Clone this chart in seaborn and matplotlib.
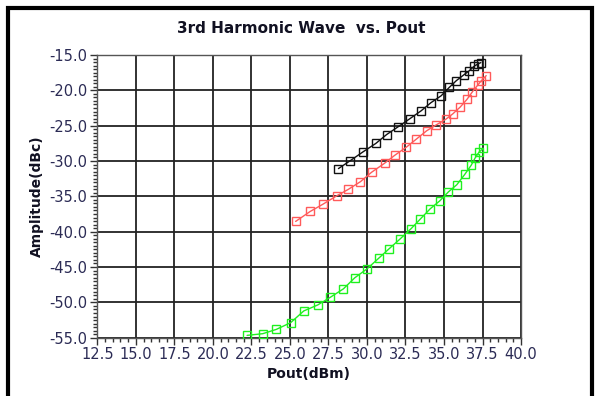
import matplotlib
matplotlib.use("Agg")
import matplotlib.pyplot as plt
from matplotlib.ticker import MultipleLocator, FormatStrFormatter
from matplotlib.patches import Rectangle
import numpy as np
import pandas as pd
import seaborn as sns

# Third-harmonic level vs. output power, three measurement sweeps
pout_black = [28.15, 28.89, 29.74, 30.57, 31.28, 32.02, 32.78, 33.52, 34.15, 34.82,
              35.35, 35.80, 36.28, 36.65, 36.98, 37.24, 37.39]
amp_black = [-31.07, -29.99, -28.71, -27.52, -26.25, -25.16, -24.02, -22.89, -21.75, -20.76,
             -19.57, -18.63, -17.82, -17.21, -16.55, -16.22, -16.08]

pout_red = [25.37, 26.32, 27.12, 28.05, 28.79, 29.58, 30.30, 31.14, 31.81, 32.55, 33.20,
            33.87, 34.47, 35.10, 35.58, 36.05, 36.49, 36.85, 37.18, 37.41, 37.74]
amp_red = [-38.55, -37.13, -36.14, -34.91, -34.01, -32.92, -31.59, -30.32, -29.18, -28.05, -26.91,
           -25.73, -24.92, -24.12, -23.31, -22.37, -21.28, -20.19, -19.29, -18.67, -17.92]

pout_green = [22.22, 23.24, 24.12, 25.05, 25.90, 26.81, 27.63, 28.47, 29.21, 30.01, 30.75, 31.42,
              32.15, 32.87, 33.45, 34.10, 34.73, 35.29, 35.83, 36.35, 36.76, 37.02, 37.28, 37.56]
amp_green = [-54.67, -54.43, -53.82, -52.87, -51.21, -50.36, -49.27, -48.09, -46.52, -45.25, -43.78, -42.45,
             -41.03, -39.56, -38.24, -36.77, -35.63, -34.36, -33.36, -31.89, -30.62, -29.57, -28.72, -28.20]

series = ["black", "red", "green"]
colors = {"black": "#111111", "red": "#ff5a5a", "green": "#1ff01f"}

df = pd.concat([
    pd.DataFrame({"Pout": pout_black, "Amp": amp_black, "trace": "black"}),
    pd.DataFrame({"Pout": pout_red, "Amp": amp_red, "trace": "red"}),
    pd.DataFrame({"Pout": pout_green, "Amp": amp_green, "trace": "green"}),
], ignore_index=True)

sns.set_style("white")
plt.rcParams["font.family"] = ["DejaVu Sans"]

fig = plt.figure(figsize=(5.96, 3.96), dpi=100)
ax = fig.add_axes([0.1633, 0.1472, 0.8742 - 0.1633, 0.8611 - 0.1472])

# outer frame of the chart window
fig.patches.append(Rectangle((0.0135, -0.05), 0.98, 1.03, transform=fig.transFigure,
                             fill=False, edgecolor="black", linewidth=3, zorder=0))

sns.lineplot(data=df, x="Pout", y="Amp", hue="trace", hue_order=series, palette=colors,
             sort=False, estimator=None, marker="s", markersize=5.5,
             markerfacecolor="none", markeredgewidth=1.0, linewidth=1.0,
             legend=False, ax=ax, zorder=3)
for line in ax.lines:
    line.set_markeredgecolor(line.get_color())

ax.set_xlim(12.5, 40.0)
ax.set_ylim(-55.0, -15.0)
ax.xaxis.set_major_locator(MultipleLocator(2.5))
ax.xaxis.set_minor_locator(MultipleLocator(0.5))
ax.yaxis.set_major_locator(MultipleLocator(5))
ax.yaxis.set_minor_locator(MultipleLocator(0.5))
ax.xaxis.set_major_formatter(FormatStrFormatter("%.1f"))
ax.yaxis.set_major_formatter(FormatStrFormatter("%.1f"))

ax.grid(True, which="major", color="#222222", linewidth=1.3)
for s in ax.spines.values():
    s.set_color("#555555")
    s.set_linewidth(1.0)

tick_color = "#2b2b55"
ax.tick_params(axis="both", which="major", direction="out", length=5, width=1,
               colors="#333333", labelcolor=tick_color, labelsize=10.5, pad=2,
               bottom=True, left=True)
ax.tick_params(axis="both", which="minor", direction="out", length=3, width=1,
               colors="#333333", bottom=True, left=True)

ax.set_xlabel("Pout(dBm)", fontsize=10, fontweight="bold", color="#111122", labelpad=3)
ax.set_ylabel("Amplitude(dBc)", fontsize=10, fontweight="bold", color="#111122", labelpad=4)
fig.text(0.505, 0.928, "3rd Harmonic Wave  vs. Pout", ha="center", va="center",
         fontsize=11, fontweight="bold", color="#111122")

fig.savefig("out.png", dpi=100)
